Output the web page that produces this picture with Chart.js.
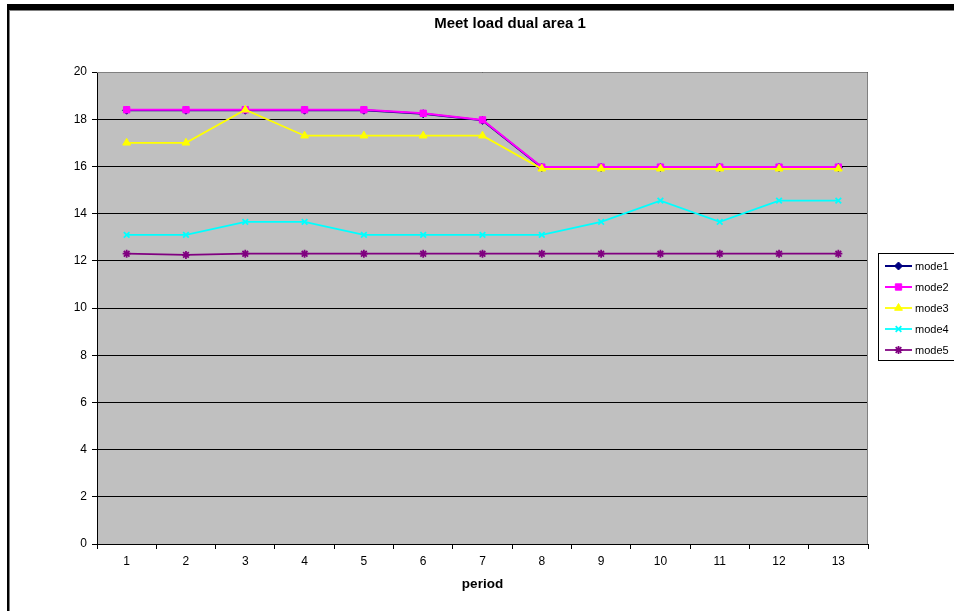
<!DOCTYPE html>
<html>
<head>
<meta charset="utf-8">
<script src="https://cdn.jsdelivr.net/npm/chart.js@4"></script>
<style>
  html, body { margin: 0; padding: 0; background: #fff; }
  #wrap { width: 954px; height: 611px; position: relative; }
</style>
</head>
<body>
<div id="wrap"><canvas id="c" width="954" height="611"></canvas></div>
<script>
// Period labels along the x axis
const periods = ['1', '2', '3', '4', '5', '6', '7', '8', '9', '10', '11', '12', '13'];

// Met load per mode for each period
const mode1 = [18.38, 18.38, 18.38, 18.38, 18.38, 18.23, 17.95, 15.95, 15.95, 15.95, 15.95, 15.95, 15.95];
const mode2 = [18.4, 18.4, 18.4, 18.4, 18.4, 18.25, 17.97, 15.97, 15.97, 15.97, 15.97, 15.97, 15.97];
const mode3 = [17.0, 17.0, 18.4, 17.3, 17.3, 17.3, 17.3, 15.9, 15.9, 15.9, 15.9, 15.9, 15.9];
const mode4 = [13.1, 13.1, 13.65, 13.65, 13.1, 13.1, 13.1, 13.1, 13.65, 14.55, 13.65, 14.55, 14.55];
const mode5 = [12.3, 12.25, 12.3, 12.3, 12.3, 12.3, 12.3, 12.3, 12.3, 12.3, 12.3, 12.3, 12.3];

// Y axis range
const yMin = 0;
const yMax = 20;
const yStep = 2;

const FONT = '"Liberation Sans", Arial, sans-serif';

const seriesNames = ['mode1', 'mode2', 'mode3', 'mode4', 'mode5'];
const seriesValues = [mode1, mode2, mode3, mode4, mode5];
const seriesColors = ['#000080', '#FF00FF', '#FFFF00', '#00FFFF', '#800080'];
const seriesMarkers = ['rectRot', 'rect', 'triangle', 'crossRot', 'star'];
const markerRadius = [4, 4.5, 4.5, 4, 4];

// Frame, plot background, title and legend drawn straight onto the canvas
const decor = {
  id: 'decor',
  beforeDraw(chart) {
    const ctx = chart.ctx;
    const a = chart.chartArea;
    ctx.save();
    ctx.fillStyle = '#ffffff';
    ctx.fillRect(0, 0, chart.width, chart.height);
    ctx.fillStyle = '#C0C0C0';
    ctx.fillRect(a.left, a.top, a.right - a.left, a.bottom - a.top);
    ctx.restore();
  },
  afterDatasetsDraw(chart) {
    const ctx = chart.ctx;
    const a = chart.chartArea;
    ctx.save();
    // plot area outline
    ctx.strokeStyle = '#808080';
    ctx.lineWidth = 1;
    ctx.beginPath();
    ctx.moveTo(a.left, a.top + 0.5);
    ctx.lineTo(a.right - 0.5, a.top + 0.5);
    ctx.lineTo(a.right - 0.5, a.bottom);
    ctx.stroke();
    ctx.restore();
  },
  afterDraw(chart) {
    const ctx = chart.ctx;
    ctx.save();
    // outer frame
    ctx.fillStyle = '#000000';
    ctx.fillRect(7, 4, chart.width - 7, 6);
    ctx.fillRect(7, 4, 2, chart.height - 4);
    ctx.fillStyle = '#808080';
    ctx.fillRect(9, 10, chart.width - 9, 1);
    ctx.fillRect(9, 10, 1, chart.height - 10);

    // title
    ctx.fillStyle = '#000000';
    ctx.font = 'bold 15px ' + FONT;
    ctx.textAlign = 'center';
    ctx.textBaseline = 'middle';
    ctx.fillText('Meet load dual area 1', 510, 24);

    // legend
    const bx = 878.5, by = 253.5, bw = 90, bh = 107;
    ctx.fillStyle = '#ffffff';
    ctx.fillRect(bx, by, bw, bh);
    ctx.strokeStyle = '#000000';
    ctx.lineWidth = 1;
    ctx.strokeRect(bx, by, bw, bh);
    ctx.font = '11px ' + FONT;
    ctx.textAlign = 'left';
    chart.data.datasets.forEach((ds, i) => {
      const y = 266 + i * 21;
      ctx.strokeStyle = ds.borderColor;
      ctx.lineWidth = ds.borderWidth;
      ctx.beginPath();
      ctx.moveTo(885, y);
      ctx.lineTo(912, y);
      ctx.stroke();
      ctx.fillStyle = ds.pointBackgroundColor;
      ctx.strokeStyle = ds.pointBorderColor;
      ctx.lineWidth = ds.pointBorderWidth;
      Chart.helpers.drawPoint(ctx, {
        pointStyle: ds.pointStyle,
        radius: ds.pointRadius,
        borderWidth: ds.pointBorderWidth,
        rotation: 0
      }, 898.5, y);
      ctx.fillStyle = '#000000';
      ctx.fillText(ds.label, 915, y + 1);
    });
    ctx.restore();
  }
};

const datasets = seriesNames.map((name, i) => ({
  label: name,
  data: seriesValues[i],
  borderColor: seriesColors[i],
  backgroundColor: seriesColors[i],
  borderWidth: i < 2 ? 2 : 1.75,
  pointStyle: seriesMarkers[i],
  pointRadius: markerRadius[i],
  pointHoverRadius: markerRadius[i],
  pointBorderWidth: (i >= 3) ? 1.75 : 1,
  pointBackgroundColor: seriesColors[i],
  pointBorderColor: seriesColors[i],
  tension: 0,
  order: 5 - i
}));

new Chart(document.getElementById('c'), {
  type: 'line',
  data: { labels: periods, datasets },
  plugins: [decor],
  options: {
    responsive: false,
    animation: false,
    devicePixelRatio: 1,
    layout: { padding: { top: 72, right: 86, left: 0, bottom: 0 } },
    plugins: {
      legend: { display: false },
      title: { display: false },
      tooltip: { enabled: false }
    },
    scales: {
      x: {
        offset: true,
        grid: {
          offset: true,
          drawOnChartArea: false,
          drawTicks: true,
          tickLength: 5,
          color: '#000000'
        },
        border: { color: '#000000', width: 1 },
        ticks: {
          color: '#000000',
          font: { family: FONT, size: 12 },
          padding: 5,
          maxRotation: 0,
          autoSkip: false
        },
        title: {
          display: true,
          text: 'period',
          color: '#000000',
          font: { family: FONT, size: 13.5, weight: 'bold' },
          padding: { top: 0, bottom: 19 }
        },
        afterFit(scale) { scale.height = 67; }
      },
      y: {
        min: yMin,
        max: yMax,
        grid: {
          color: '#000000',
          lineWidth: 1,
          drawTicks: true,
          tickLength: 5
        },
        border: { color: '#000000', width: 1 },
        ticks: {
          stepSize: yStep,
          color: '#000000',
          font: { family: FONT, size: 12 },
          padding: 5
        },
        afterFit(scale) { scale.width = 97; }
      }
    }
  }
});
</script>
</body>
</html>
